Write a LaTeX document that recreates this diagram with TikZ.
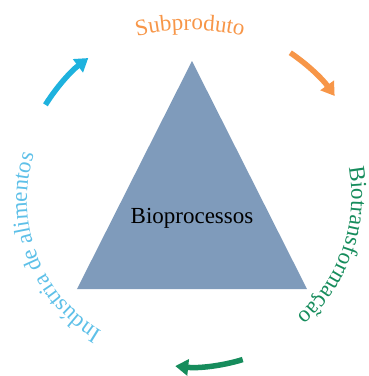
\documentclass[tikz,border=0pt]{standalone}
\usepackage{fontspec}
\setmainfont{Liberation Serif}
\usetikzlibrary{decorations.text,arrows.meta}
\definecolor{triblue}{RGB}{127,155,187}
\definecolor{suborange}{RGB}{247,150,72}
\definecolor{biogreen}{RGB}{22,140,92}
\definecolor{indblue}{RGB}{94,192,232}
\definecolor{arrowblue}{RGB}{30,178,222}
\newcommand{\ringfont}{\fontsize{23}{26}\selectfont}
\tikzset{
  cyclearrow/.style={line width=5.5pt, -{Triangle[length=13pt,width=16pt]}},
  ringtext/.style={decorate, decoration={text along path, text align=center,
    text={#1}}}
}
\begin{document}
\begin{tikzpicture}[x=1pt,y=1pt]
  \useasboundingbox (-193,-179) rectangle (176,197);
  \coordinate (c) at (0,0);
  \coordinate (ctop) at (-3,-60);
  \coordinate (cleft) at (-14,-3);
  % central triangle
  \coordinate (apex) at (-1,136);
  \coordinate (bl) at (-116,-92);
  \coordinate (br) at (114,-92);
  \fill[triblue] (apex) -- (bl) -- (br) -- cycle;
  \node[font=\fontsize{23}{26}\selectfont, anchor=base] (core) at (-1,-26) {Bioprocessos};
  % labels set clockwise along arcs
  \path[ringtext={|\ringfont\color{suborange}|Subproduto}]
    (ctop) ++(130:227) arc[start angle=130, end angle=50, radius=227];
  \path[ringtext={|\ringfont\color{biogreen}|Biotransformação}]
    (c) ++(41:158.5) arc[start angle=41, end angle=-79, radius=158.5];
  \path[ringtext={|\ringfont\color{indblue}|Indústria de alimentos}]
    (cleft) ++(262:152) arc[start angle=262, end angle=140, radius=152];
  % arrows on the ring
  \draw[cyclearrow, arrowblue] (c) ++(148:174) arc[start angle=148, end angle=127, radius=174];
  \draw[cyclearrow, suborange] (c) ++(56:174) arc[start angle=56, end angle=35.5, radius=174];
  \draw[cyclearrow, biogreen] (c) ++(-73:170) arc[start angle=-73, end angle=-96, radius=170];
\end{tikzpicture}
\end{document}
